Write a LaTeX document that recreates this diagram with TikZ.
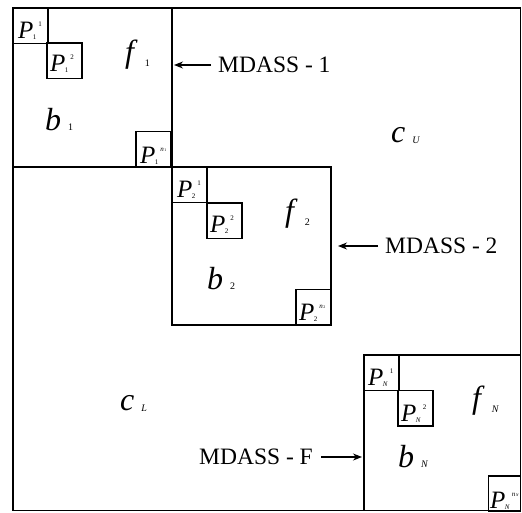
\documentclass[tikz,border=0pt]{standalone}
\usepackage{fontspec}
\setmainfont{Liberation Serif}
\usetikzlibrary{arrows.meta}
\newcommand\Pl[2]{\textit{P}\kern-0.5pt\raisebox{-1pt}{\fontsize{7}{7}\selectfont #1}\kern2pt\raisebox{12pt}{\fontsize{7}{7}\selectfont #2}}
\newcommand\Lb[3]{\textit{#1}\hspace{7pt}\raisebox{#3}{\fontsize{10}{10}\selectfont #2}}
\tikzset{
  blk/.style={draw, line width=1.2pt, anchor=north west, inner sep=0pt, outer sep=0pt},
  pbx/.style={blk, minimum width=35pt, minimum height=35.5pt},
  plab/.style={anchor=base west, inner sep=0pt, font=\fontsize{25}{25}\selectfont},
  biglab/.style={anchor=base west, inner sep=0pt, font=\fontsize{32}{32}\selectfont},
  mlab/.style={inner sep=0pt, font=\fontsize{23.5}{23.5}\selectfont},
  arr/.style={-{Stealth[length=9pt,width=7pt]}, line width=1.2pt}
}
\begin{document}
\begin{tikzpicture}[x=1pt,y=-1pt]
\useasboundingbox (0,0) rectangle (522,512);
% outer matrix
\node[blk, minimum width=507.5pt, minimum height=502.5pt] (O) at (13,8) {};
% blocks
\node[blk, minimum width=159pt, minimum height=159pt] (B1) at (13,8) {};
\node[blk, minimum width=159pt, minimum height=158pt] (B2) at (172,167) {};
\node[blk, minimum width=156.5pt, minimum height=155.5pt] (BN) at (364,355) {};
% P boxes block 1
\node[pbx] (p11) at (13,8) {};
\node[pbx] (p12) at (47,43) {};
\node[pbx] (p1n) at (136,131.5) {};
% P boxes block 2
\node[pbx] (p21) at (172,167) {};
\node[pbx] (p22) at (207,203) {};
\node[pbx] (p2n) at (296,289.5) {};
% P boxes block N
\node[pbx] (pN1) at (364,355) {};
\node[pbx] (pN2) at (398,390.5) {};
\node[pbx, minimum width=32pt] (pNn) at (488.5,476) {};
% P labels
\node[plab] (lp11) at (18,38) {\Pl{1}{1}};
\node[plab] (lp12) at (50,71) {\Pl{1}{2}};
\node[plab] (lp1n) at (140,163) {\Pl{1}{\textit{n}\kern0.5pt{\fontsize{4}{4}\selectfont 1}}};
\node[plab] (lp21) at (177,197) {\Pl{2}{1}};
\node[plab] (lp22) at (210,232) {\Pl{2}{2}};
\node[plab] (lp2n) at (299,320) {\Pl{2}{\textit{n}\kern0.5pt{\fontsize{4}{4}\selectfont 2}}};
\node[plab] (lpN1) at (368,385) {\Pl{\textit{N}}{1}};
\node[plab] (lpN2) at (401,421) {\Pl{\textit{N}}{2}};
\node[plab] (lpNn) at (490,508) {\Pl{\textit{N}}{\textit{n}\kern0.5pt{\fontsize{4}{4}\selectfont\textit{N}}}};
% block labels
\node[biglab] (f1) at (125,62) {\Lb{f}{1}{-4pt}};
\node[biglab] (b1) at (45,130) {\Lb{b}{1}{0pt}};
\node[biglab] (cU) at (391,142) {\Lb{c}{\textit{U}}{-1pt}};
\node[biglab] (f2) at (285,221) {\Lb{f}{2}{-4pt}};
\node[biglab] (b2) at (207,289) {\Lb{b}{2}{0pt}};
\node[biglab] (cL) at (120,410) {\Lb{c}{\textit{L}}{-1pt}};
\node[biglab] (fN) at (472,408) {\Lb{f}{\textit{N}}{-4pt}};
\node[biglab] (bN) at (398,467) {\Lb{b}{\textit{N}}{0pt}};
% MDASS labels and arrows
\node[mlab, anchor=west] (m1) at (218,65) {MDASS - 1};
\node[mlab, anchor=west] (m2) at (385,246) {MDASS - 2};
\node[mlab, anchor=east] (mF) at (313,457) {MDASS - F};
\draw[arr, shorten >=2pt] ([xshift=-7pt]m1.west) -- (m1.west -| B1.east);
\draw[arr, shorten >=7pt] ([xshift=-7pt]m2.west) -- (m2.west -| B2.east);
\draw[arr, shorten >=2pt] ([xshift=8pt]mF.east) -- (mF.east -| BN.west);
\end{tikzpicture}
\end{document}
